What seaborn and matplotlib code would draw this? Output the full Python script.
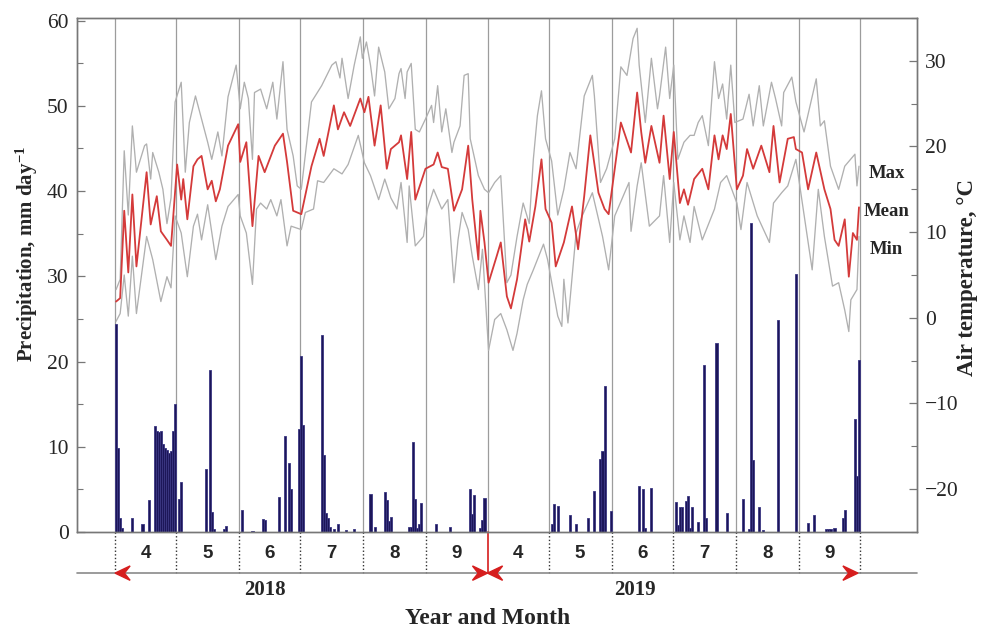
import matplotlib
matplotlib.use("Agg")
import matplotlib.pyplot as plt
import matplotlib.transforms as mtransforms
from matplotlib.patches import Polygon
import numpy as np
import pandas as pd
import seaborn as sns

# ---------------- data ----------------
month_labels = ['4', '5', '6', '7', '8', '9', '4', '5', '6', '7', '8', '9']
month_days = [30, 31, 30, 31, 31, 30, 30, 31, 30, 31, 31, 30]
year_labels = ['2018', '2019']
year_label_day = [73, 255]

# daily precipitation (day index from 1 Apr 2018; 2019 starts at day 183)
precip_day = [0, 1, 2, 3, 8, 13, 16, 19, 20, 21, 22, 23, 24, 25, 26, 27, 28, 29, 31, 32,
              44, 46, 47, 48, 53, 54, 62, 67, 72, 73, 80, 83, 85, 86, 90, 91, 92,
              101, 102, 103, 104, 105, 107, 109, 113, 117, 125, 127, 132, 133, 134, 135,
              144, 145, 146, 147, 148, 149, 150, 157, 164, 174, 175, 176, 179, 180, 181,
              214, 215, 217, 223, 226, 232, 235, 238, 239, 240, 243, 257, 259, 260, 263,
              275, 276, 277, 278, 280, 281, 282, 283, 286, 289, 290, 295, 300,
              308, 311, 312, 313, 316, 318, 325, 334, 340, 343, 349, 350, 351, 353,
              357, 358, 363, 364, 365]
precip_mm = [24.4, 9.8, 1.6, 0.5, 1.7, 0.9, 3.7, 12.4, 11.9, 11.7, 11.9, 10.3, 9.8, 9.6, 9.3, 9.5, 11.8, 15.0, 3.9, 5.9,
             7.4, 19.0, 2.4, 0.4, 0.3, 0.7, 2.6, 0.1, 1.5, 1.4, 4.1, 11.3, 8.1, 5.0, 12.1, 20.6, 12.5,
             23.1, 9.0, 2.2, 1.6, 0.6, 0.4, 0.9, 0.2, 0.3, 4.5, 0.6, 4.7, 3.8, 1.3, 1.8,
             0.6, 0.6, 10.6, 3.9, 0.5, 0.9, 3.4, 0.9, 0.6, 5.0, 2.1, 4.3, 0.5, 1.4, 4.0,
             0.9, 3.3, 3.0, 2.0, 0.9, 1.7, 4.8, 8.6, 9.5, 17.1, 2.5, 5.4, 5.0, 0.5, 5.2,
             3.5, 0.8, 2.9, 2.9, 3.6, 4.2, 0.5, 2.9, 1.2, 19.6, 1.6, 22.2, 2.2,
             3.9, 0.3, 36.2, 8.5, 2.9, 0.2, 24.9, 30.3, 1.0, 2.0, 0.3, 0.3, 0.4, 0.5,
             1.7, 2.6, 13.2, 6.6, 20.2]

tmean_day = [0, 2, 4, 6, 8, 10, 15, 17, 20, 22, 25, 27, 30, 32, 33, 35, 38, 40, 42, 45, 47, 49, 51, 55,
             60, 61, 64, 67, 70, 73, 78, 82, 84, 87, 91, 96, 100, 102, 107, 109, 112, 115, 120, 122,
             124, 127, 130, 133, 135, 139, 140, 143, 145, 147, 152, 156, 158, 160, 163, 166, 170,
             173, 175, 178, 179, 181, 183, 187, 189, 192, 194, 197, 201, 203, 206, 209, 211, 214,
             216, 220, 224, 227, 230, 233, 237, 240, 242, 245, 248, 253, 256, 258, 260, 263, 267,
             269, 272, 274, 277, 279, 281, 284, 288, 291, 294, 296, 298, 300, 302, 305, 308, 310,
             313, 317, 321, 323, 326, 330, 333, 334, 337, 340, 344, 348, 351, 353, 355, 358, 360,
             362, 364, 365]
tmean = [1.9, 2.3, 12.5, 5.3, 14.4, 6.0, 17.0, 10.9, 14.2, 10.1, 9.1, 8.4, 17.9, 13.8, 16.2, 11.5, 17.7, 18.5, 18.9, 15.0, 16.0, 13.6, 15.0, 20.1,
         22.6, 18.2, 20.5, 10.7, 18.9, 17.0, 20.1, 21.5, 18.2, 12.5, 12.1, 17.7, 20.9, 18.9, 24.8, 22.0, 24.0, 22.4, 25.6, 24.0,
         25.8, 20.1, 24.8, 17.4, 19.7, 20.5, 21.3, 16.2, 21.7, 13.8, 17.4, 17.9, 19.3, 17.6, 17.4, 12.5, 15.0,
         20.1, 13.8, 6.8, 12.5, 8.8, 4.1, 7.2, 8.8, 2.5, 1.1, 4.5, 11.5, 8.9, 13.0, 18.5, 12.7, 11.1,
         6.0, 8.8, 13.0, 8.0, 14.2, 21.3, 14.6, 12.7, 12.1, 17.4, 22.8, 19.3, 26.3, 21.7, 18.1, 22.4, 18.1,
         23.6, 16.2, 21.7, 13.4, 15.0, 13.2, 16.2, 17.4, 15.0, 21.3, 18.5, 21.3, 19.7, 23.8, 15.0, 16.6, 19.7,
         17.4, 20.1, 17.0, 22.4, 15.8, 20.9, 21.1, 19.7, 19.3, 15.0, 19.3, 15.0, 12.7, 9.1, 8.4, 11.5, 4.8,
         9.9, 9.1, 12.9]

tmax_day = [0, 2, 4, 6, 8, 10, 14, 15, 17, 18, 21, 23, 25, 27, 29, 32, 34, 36, 39, 42, 45, 47, 50, 52, 55,
            59, 61, 63, 65, 67, 68, 71, 74, 77, 79, 82, 84, 87, 89, 91, 96, 101, 106, 108, 110, 111, 114,
            117, 120, 121, 123, 125, 127, 129, 132, 134, 137, 139, 140, 142, 143, 145, 147, 149, 152,
            155, 156, 158, 160, 162, 165, 166, 169, 171, 173, 174, 178, 181, 183, 186, 189, 192, 194,
            197, 200, 203, 205, 207, 209, 211, 214, 217, 220, 223, 226, 230, 234, 235, 238, 241, 245,
            248, 251, 254, 256, 257, 260, 263, 266, 267, 270, 272, 274, 276, 279, 282, 284, 286, 288,
            291, 294, 296, 298, 300, 302, 304, 308, 311, 313, 316, 318, 322, 324, 327, 328, 332, 334,
            338, 344, 346, 348, 351, 355, 358, 363, 364, 365]
tmax = [3.3, 4.5, 19.5, 12.0, 22.4, 17.0, 20.1, 20.3, 16.2, 19.3, 17.0, 15.0, 11.0, 14.0, 25.2, 27.5, 17.0, 22.8, 25.9, 23.2, 20.5, 18.5, 21.7, 18.9, 25.8,
        29.5, 24.4, 27.5, 25.6, 18.5, 26.3, 26.7, 24.4, 27.5, 23.2, 29.9, 22.0, 18.9, 15.4, 15.0, 25.2, 27.1, 29.5, 29.9, 28.0, 30.3, 25.6,
        29.5, 32.8, 30.3, 32.2, 29.5, 25.9, 31.6, 28.7, 24.4, 25.6, 28.5, 29.1, 25.6, 28.7, 29.7, 22.0, 21.7, 23.2,
        24.8, 22.8, 27.1, 21.7, 24.4, 19.3, 20.5, 22.4, 28.3, 28.5, 20.9, 16.6, 15.0, 14.6, 15.8, 16.6, 4.1, 5.0,
        9.5, 13.4, 11.0, 18.5, 23.6, 26.5, 20.9, 18.3, 12.0, 15.0, 19.3, 17.4, 25.9, 28.3, 25.9, 15.8, 17.4, 20.9,
        29.3, 28.3, 32.6, 33.8, 29.5, 22.8, 30.3, 24.4, 25.9, 31.6, 25.6, 29.5, 18.5, 20.5, 21.3, 21.3, 22.8, 23.6,
        20.1, 29.9, 25.6, 27.3, 23.2, 29.5, 22.8, 23.2, 26.1, 22.4, 27.1, 22.4, 27.5, 25.6, 22.4, 26.3, 28.1, 25.2,
        21.7, 27.9, 22.4, 23.0, 17.7, 15.0, 17.7, 19.1, 15.4, 17.7]

tmin_day = [0, 2, 4, 6, 8, 10, 15, 18, 22, 25, 27, 29, 32, 35, 38, 40, 42, 45, 49, 52, 55, 60, 61, 64,
            67, 69, 71, 74, 76, 79, 81, 84, 86, 91, 93, 97, 99, 102, 107, 111, 114, 119, 122, 125,
            129, 132, 135, 138, 140, 143, 144, 147, 151, 153, 156, 160, 163, 166, 168, 170, 173,
            175, 178, 180, 183, 186, 189, 192, 195, 197, 200, 202, 205, 208, 210, 212, 217, 219,
            220, 222, 226, 229, 234, 239, 242, 245, 252, 253, 256, 258, 262, 267, 269, 272, 274,
            277, 279, 282, 284, 288, 294, 297, 300, 305, 307, 310, 315, 321, 323, 327, 330, 334,
            342, 345, 348, 352, 355, 358, 360, 361, 364, 365]
tmin = [-0.4, 0.5, 5.0, 0.2, 7.2, 0.5, 9.5, 6.8, 1.9, 4.8, 3.5, 11.9, 9.9, 4.8, 10.7, 12.1, 9.1, 13.2, 6.8, 10.7, 13.0, 14.4, 11.9, 9.9,
        3.9, 12.7, 13.4, 12.7, 13.8, 11.9, 13.8, 8.4, 10.7, 10.3, 12.3, 12.7, 16.0, 15.8, 17.4, 16.8, 17.9, 21.3, 18.1, 16.6,
        13.8, 16.2, 14.0, 12.7, 15.8, 8.8, 15.4, 8.4, 9.5, 12.7, 15.0, 12.7, 13.8, 4.1, 9.1, 12.3, 10.3,
        7.2, 3.3, 8.0, -3.8, -0.2, 0.5, -1.4, -3.8, -1.8, 2.1, 3.9, 5.6, 7.4, 8.6, 6.8, 0.2, -1.0,
        4.5, -0.6, 9.9, 11.9, 14.6, 9.5, 5.6, 11.9, 15.8, 10.1, 15.4, 18.1, 10.7, 11.9, 16.6, 8.8, 15.8,
        9.1, 11.9, 8.8, 13.0, 9.1, 12.7, 15.8, 16.6, 13.4, 10.3, 15.8, 11.9, 8.8, 13.4, 14.6, 15.4, 18.5,
        5.6, 15.0, 9.5, 3.7, 4.1, 0.9, -1.6, 2.1, 3.3, 9.5]

legend_names = ['Max', 'Mean', 'Min']
legend_temp = [16.8, 12.4, 8.0]

# ---------------- style ----------------
sns.set_style("white")
plt.rcParams['font.family'] = ['Liberation Serif', 'DejaVu Serif']
plt.rcParams['mathtext.fontset'] = 'custom'
plt.rcParams['mathtext.rm'] = 'Liberation Serif:bold'
plt.rcParams['mathtext.bf'] = 'Liberation Serif:bold'
plt.rcParams['mathtext.default'] = 'bf'

BAR = '#1c1659'
BAR_EDGE = '#3a3682'
GRAY_LINE = '#b0b0b0'
RED = '#d43a3a'
ARROW_RED = '#d61e1e'
SPINE = '#777777'

fig = plt.figure(figsize=(9.82, 6.28), dpi=100)
ax = fig.add_axes([77 / 982, 96 / 628, 840 / 982, 514 / 628])

bounds = np.concatenate([[0], np.cumsum(month_days)]) - 0.5
for b in bounds:
    ax.axvline(b, color='#9c9c9c', lw=0.9, zorder=0)

df_p = pd.DataFrame({'day': precip_day, 'mm': precip_mm})
sns.barplot(data=df_p, x='day', y='mm', native_scale=True, color=BAR, saturation=1,
            width=1.05, edgecolor=BAR_EDGE, linewidth=0.6, errorbar=None, ax=ax, zorder=2)

ax2 = ax.twinx()
df_max = pd.DataFrame({'day': tmax_day, 't': tmax})
df_min = pd.DataFrame({'day': tmin_day, 't': tmin})
df_mean = pd.DataFrame({'day': tmean_day, 't': tmean})
sns.lineplot(data=df_max, x='day', y='t', ax=ax2, color=GRAY_LINE, lw=0.95, estimator=None)
sns.lineplot(data=df_min, x='day', y='t', ax=ax2, color=GRAY_LINE, lw=0.95, estimator=None)
sns.lineplot(data=df_mean, x='day', y='t', ax=ax2, color=RED, lw=1.3, estimator=None)

xlim = (-19.2, 393.5)
ax.set_xlim(*xlim)
ax2.set_xlim(*xlim)
ax.set_ylim(0, 60.3)
ax2.set_ylim(-25, 35)

ax.set_xticks([])
ax2.set_xticks([])
ax.set_xlabel('')
ax2.set_xlabel('')
ax.set_ylabel('')
ax2.set_ylabel('')

ax.set_yticks(np.arange(0, 61, 10))
ax.set_yticks(np.arange(5, 60, 10), minor=True)
ax2.set_yticks(np.arange(-20, 31, 10))
ax2.set_yticks(np.arange(-25, 36, 5), minor=True)
ax2.yaxis.set_major_formatter(matplotlib.ticker.FuncFormatter(lambda v, p: f"{int(v)}".replace('-', '\u2212')))
for a in (ax, ax2):
    a.tick_params(axis='y', which='major', direction='in', length=6, width=0.9, color=SPINE,
                  labelsize=15.5, pad=6)
    a.tick_params(axis='y', which='minor', direction='in', length=4, width=0.8, color=SPINE)
    for s in a.spines.values():
        s.set_color(SPINE)
        s.set_linewidth(1.0)
        s.set_visible(True)
ax2.tick_params(axis='y', which='both', left=False, right=True)
ax.tick_params(axis='y', which='both', left=True, right=False)

for name, t in zip(legend_names, legend_temp):
    ax2.text(378.5, t, name, ha='center', va='center', fontsize=13.5, fontweight='bold')

# ---------------- annotations below the axis ----------------
trans = mtransforms.blended_transform_factory(ax.transData, ax.transAxes)
y_arrow = -0.080
for i, b in enumerate(bounds):
    if i == 6:
        continue
    ax.plot([b, b], [0, y_arrow], transform=trans, ls=(0, (1, 1.6)), color='#333333',
            lw=1.0, clip_on=False)
ax.plot([bounds[6], bounds[6]], [0, y_arrow], transform=trans, color=ARROW_RED, lw=1.2,
        clip_on=False)
ax.plot(list(xlim), [y_arrow, y_arrow], transform=trans, color='#8a8a8a', lw=1.2, clip_on=False)

def head(tip, direction):
    L = 7.4
    h = 0.0140
    pts = [(tip, y_arrow), (tip - direction * L, y_arrow + h),
           (tip - direction * 0.62 * L, y_arrow), (tip - direction * L, y_arrow - h)]
    ax.add_patch(Polygon(pts, closed=True, transform=trans, color=ARROW_RED, clip_on=False,
                         zorder=5))

head(bounds[0], -1)
head(bounds[6], 1)
head(bounds[6], -1)
head(364.5, 1)

for i, lab in enumerate(month_labels):
    c = (bounds[i] + bounds[i + 1]) / 2
    ax.text(c, -0.041, lab, transform=trans, ha='center', va='center', fontsize=13.5,
            fontweight='bold', family=['Liberation Sans', 'DejaVu Sans'])

for lab, d in zip(year_labels, year_label_day):
    ax.text(d, -0.113, lab, transform=trans, ha='center', va='center', fontsize=15,
            fontweight='bold')

fig.text(488 / 982, 1 - 618 / 628, 'Year and Month', ha='center', va='center',
         fontsize=17, fontweight='bold')
fig.text(27 / 982, 1 - 254 / 628, 'Precipitation, mm day$^{-1}$', rotation=90, ha='center',
         va='center', fontsize=15, fontweight='bold')
fig.text(968 / 982, 1 - 278 / 628, 'Air temperature, \u00b0C', rotation=90, ha='center',
         va='center', fontsize=16.5, fontweight='bold')

fig.savefig('out.png', dpi=100)
